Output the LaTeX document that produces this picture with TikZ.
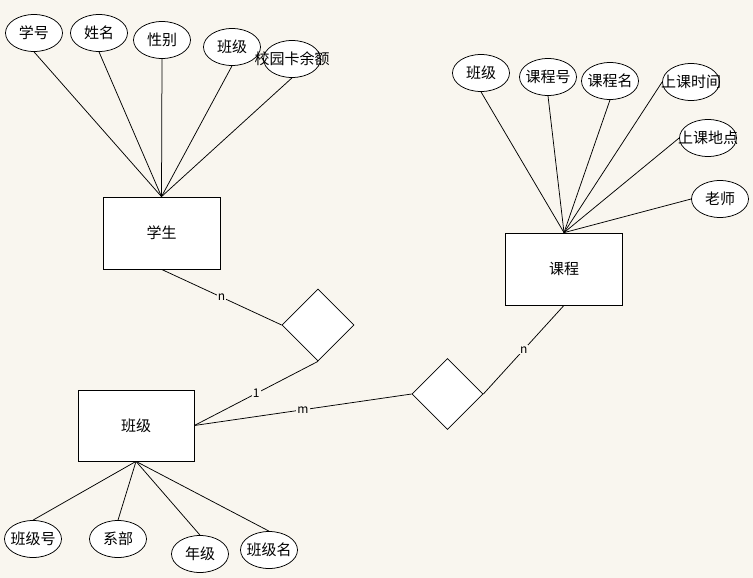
\documentclass[tikz,border=0pt]{standalone}
\usepackage{fontspec}
\setmainfont{Noto Sans CJK SC}
\usetikzlibrary{shapes.geometric}
\definecolor{erbg}{HTML}{F9F6EF}
\tikzset{
  entity/.style={draw, fill=white, minimum width=117pt, minimum height=72pt, inner sep=0pt},
  attr/.style={ellipse, draw, fill=white, minimum width=57pt, minimum height=37pt,
    inner sep=0pt, label={center:#1}},
  rel/.style={diamond, draw, fill=white, minimum width=72pt, minimum height=72pt, inner sep=0pt},
  card/.style={fill=erbg, inner sep=1pt, font=\fontsize{12}{14}\selectfont},
}

\begin{document}
\begin{tikzpicture}[x=1pt, y=-1pt, line width=0.75pt, font=\fontsize{15}{18}\selectfont]
    \fill[erbg] (0,0) rectangle (753,578);
    % entities
    \node[entity] (student) at (161.5,233) {学生};
    \node[entity] (course) at (564,269) {课程};
    \node[entity, minimum width=116pt, minimum height=71pt] (class) at (136,425.5) {班级};
    % relationships
    \node[rel] (belong) at (318,325) {};
    \node[rel, minimum width=71pt, minimum height=71pt] (take) at (447.5,394) {};
    % student attributes
    \node[attr=学号] (sno) at (34,33) {};
    \node[attr=姓名] (sname) at (99,33) {};
    \node[attr=性别] (ssex) at (162,40) {};
    \node[attr=班级] (sclass) at (232,47) {};
    \node[attr=校园卡余额] (scard) at (292,59) {};
    % course attributes
    \node[attr=班级] (cclass) at (481,73) {};
    \node[attr=课程号] (cno) at (548,77) {};
    \node[attr=课程名] (cname) at (610,81) {};
    \node[attr=上课时间] (ctime) at (691,82) {};
    \node[attr=上课地点] (cplace) at (708,138) {};
    \node[attr=老师] (cteacher) at (720,199) {};
    % class attributes
    \node[attr=班级号] (kno) at (33,539) {};
    \node[attr=系部] (kdept) at (118,539) {};
    \node[attr=年级] (kgrade) at (200,554) {};
    \node[attr=班级名] (kname) at (269,550) {};
    % attribute links
    \foreach \a in {sno,sname,ssex,sclass,scard}
      \draw (\a.south) -- (student.north);
    \foreach \a/\s in {cclass/south,cno/south,cname/south,ctime/west,cplace/west,cteacher/west}
      \draw (\a.\s) -- (course.north);
    \foreach \a in {kno,kdept,kgrade,kname}
      \draw (class.south) -- (\a.north);
    % relationship links
    \draw (student.south) -- node[card] {n} (belong.west);
    \draw (belong.south) -- node[card] {1} (class.east);
    \draw (class.east) -- node[card] {m} (take.west);
    \draw (take.east) -- node[card] {n} (course.south);
\end{tikzpicture}
\end{document}
